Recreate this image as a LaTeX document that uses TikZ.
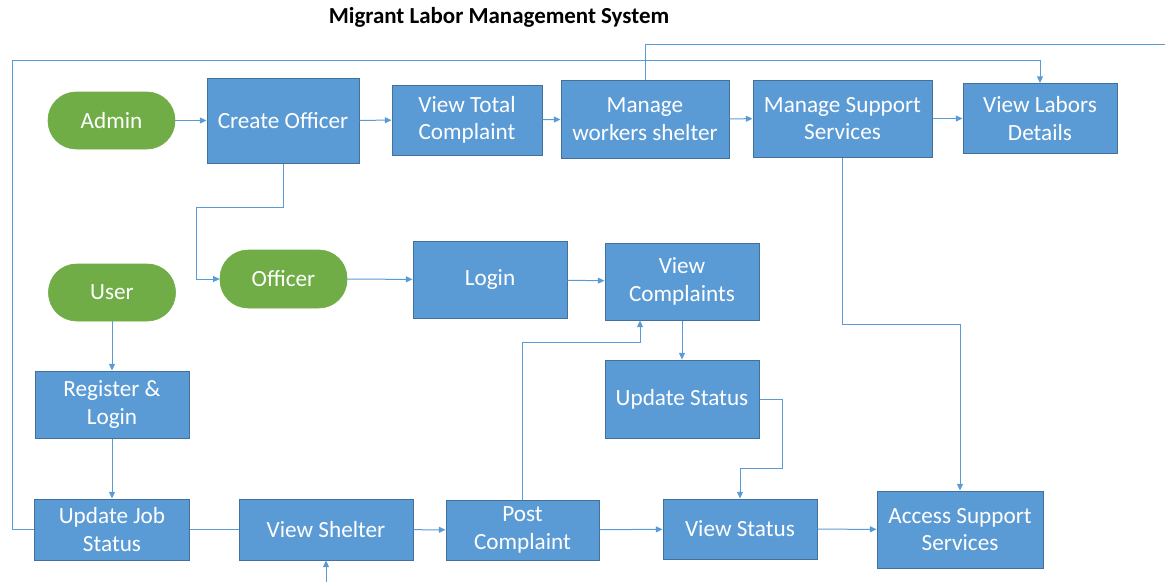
\documentclass[tikz,border=0pt]{standalone}
\usepackage{fontspec}
\setmainfont{Carlito}
\usetikzlibrary{arrows.meta}
\definecolor{boxblue}{HTML}{5B9BD5}
\definecolor{boxedge}{HTML}{41719C}
\definecolor{pillgreen}{HTML}{70AD47}
\definecolor{linkblue}{HTML}{5B9BD5}
\tikzset{
  sz/.style 2 args={minimum width=#1*0.75pt, minimum height=#2*0.75pt},
  boxnode/.style={draw=boxedge, line width=0.75pt, fill=boxblue, text=white, inner sep=0pt, align=center,
    font=\fontsize{17.4}{20.5}\selectfont},
  pill/.style={draw=pillgreen, fill=pillgreen, text=white, inner sep=0pt, rounded corners=21pt,
    font=\fontsize{17.4}{20.5}\selectfont},
  conn/.style={draw=linkblue, line width=0.75pt},
  arr/.style={conn, -{Triangle[length=5pt,width=4.5pt]}},
}
\begin{document}
\begin{tikzpicture}[x=0.75pt,y=-0.75pt]
\useasboundingbox (0,0) rectangle (1165,582);
\node[font=\bfseries\fontsize{17.2}{20}\selectfont] (title) at (499,17) {Migrant Labor Management System};
% top row
\node[pill, sz={127}{57}] (admin) at (111.5,120.5) {Admin};
\node[boxnode, sz={152}{85}] (createofficer) at (283,120.5) {Create Officer};
\node[boxnode, sz={150}{70}] (viewtotal) at (467,120) {View Total\\Complaint};
\node[boxnode, sz={168}{78}] (manageworkers) at (645,119) {Manage\\workers shelter};
\node[boxnode, sz={179}{77}] (managesupport) at (842.5,118.5) {Manage Support\\Services};
\node[boxnode, sz={154}{70}] (viewlabors) at (1040,118.5) {View Labors\\Details};
% middle
\node[pill, sz={127}{58}] (officer) at (283.5,279) {Officer};
\node[boxnode, sz={154}{77}] (login) at (490,279.5) {Login};
\node[boxnode, sz={154}{77}] (viewcomplaints) at (682,281.5) {View\\Complaints};
\node[pill, sz={127}{57}] (user) at (112,292.5) {User};
\node[boxnode, sz={154}{67}] (register) at (112,404.5) {Register \&\\Login};
\node[boxnode, sz={154}{78}] (updatestatus) at (682,399) {Update Status};
% bottom row
\node[boxnode, sz={155}{61}] (updatejob) at (112,529.5) {Update Job\\Status};
\node[boxnode, sz={174}{61}] (viewshelter) at (326,529.5) {View Shelter};
\node[boxnode, sz={153}{60}] (postcomplaint) at (522.5,530) {Post\\Complaint};
\node[boxnode, sz={154}{60}] (viewstatus) at (740,529) {View Status};
\node[boxnode, sz={166}{77}] (access) at (960,529.5) {Access Support\\Services};
\coordinate (offright) at (1165,44);
\coordinate (offbottom) at (326,582);
% connectors
\draw[arr] (admin) -- (createofficer);
\draw[arr] (createofficer) -- (viewtotal);
\draw[arr] (viewtotal) -- (manageworkers);
\draw[arr] (manageworkers) -- (managesupport);
\draw[arr] (managesupport) -- (viewlabors);
\draw[arr] (createofficer.south) |- (196,207) |- (officer.west);
\draw[arr] (officer) -- (login);
\draw[arr] (login) -- (viewcomplaints);
\draw[arr] (viewcomplaints) -- (updatestatus);
\draw[arr] (updatestatus.east) -| (782,468) -| (viewstatus.north);
\draw[arr] (postcomplaint.north) |- (640,342) -- ([xshift=-31.5pt]viewcomplaints.south);
\draw[arr] (managesupport.south) |- (960,324) -- (access.north);
\draw[arr] (updatejob.west) -| (12,60) -| (viewlabors.north);
\draw[conn] (manageworkers.north) |- (offright);
\draw[arr] (user) -- (register);
\draw[arr] (register) -- (updatejob);
\draw[conn] (updatejob) -- (viewshelter);
\draw[arr] (viewshelter) -- (postcomplaint);
\draw[arr] (postcomplaint) -- (viewstatus);
\draw[arr] (viewstatus) -- (access);
\draw[arr] (offbottom) -- (viewshelter.south);
\end{tikzpicture}
\end{document}
